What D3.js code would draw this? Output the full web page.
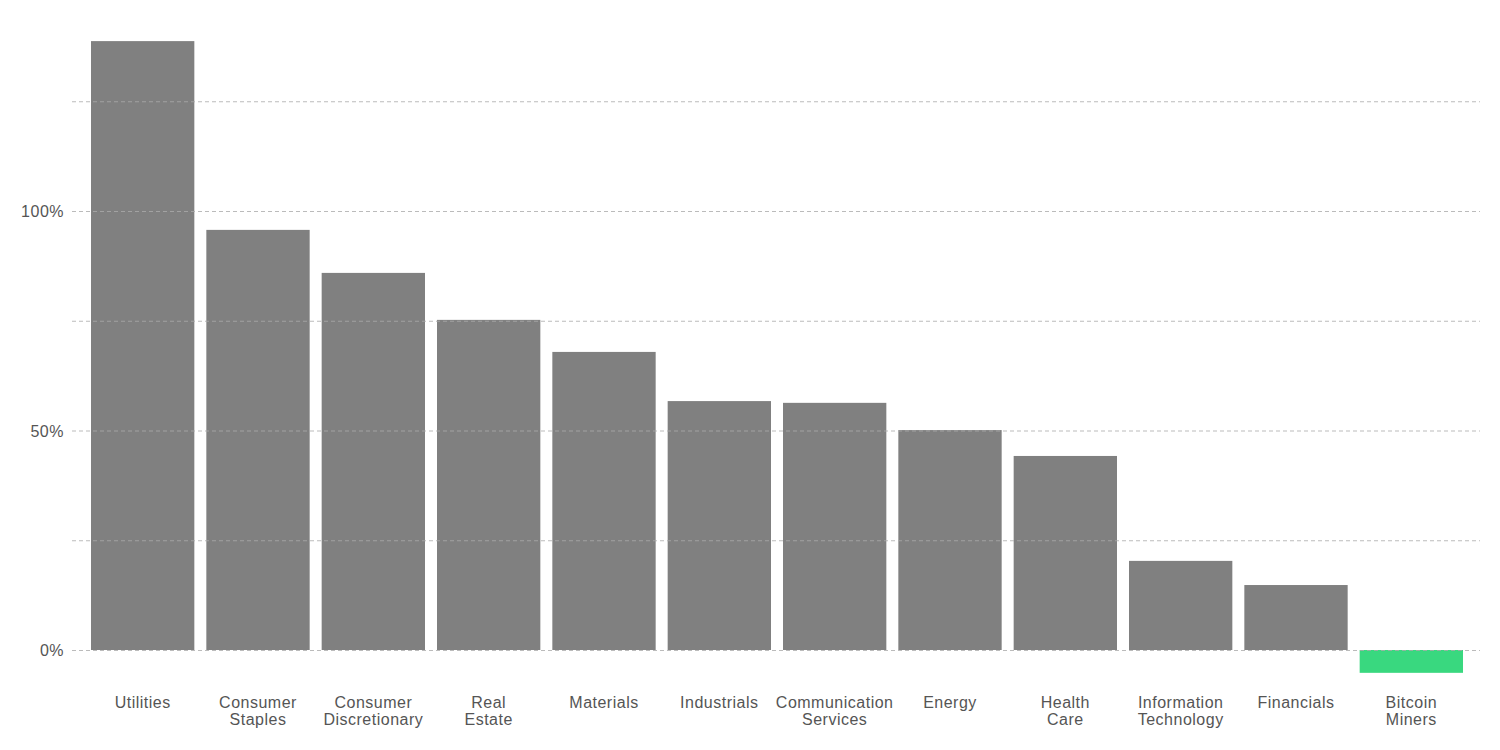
<!DOCTYPE html>
<html><head><meta charset="utf-8">
<script src="https://cdn.jsdelivr.net/npm/d3@7"></script>
<style>
html,body{margin:0;padding:0;background:#fff;}
svg text{font-family:"Liberation Sans",Arial,sans-serif;letter-spacing:0.5px;}
</style></head>
<body>
<svg id="chart" width="1500" height="750"></svg>
<script>
const categories = [["Utilities"],["Consumer","Staples"],["Consumer","Discretionary"],["Real","Estate"],["Materials"],["Industrials"],["Communication","Services"],["Energy"],["Health","Care"],["Information","Technology"],["Financials"],["Bitcoin","Miners"]];
const values = [138.7, 95.7, 85.9, 75.2, 67.9, 56.7, 56.3, 50.1, 44.2, 20.3, 14.8, -5.2];
const gridTicks = [0, 25, 50, 75, 100, 125];
const labelTicks = [0, 50, 100];

const svg = d3.select("#chart");
const keys = categories.map(c => c.join(" "));
const x = d3.scaleBand().domain(keys).range([85, 1469]).paddingInner(0.104).paddingOuter(0.052);
const y = d3.scaleLinear().domain([0, 100]).range([650, 211]);

svg.append("g").selectAll("rect").data(values).join("rect")
  .attr("x", (d, i) => x(keys[i]))
  .attr("width", x.bandwidth())
  .attr("y", d => y(Math.max(0, d)))
  .attr("height", d => Math.abs(y(d) - y(0)))
  .attr("fill", (d, i) => d < 0 ? "#39d87f" : "#808080");

svg.append("g").selectAll("line").data(gridTicks).join("line")
  .attr("x1", 72).attr("x2", 1480)
  .attr("y1", d => y(d) + 0.5).attr("y2", d => y(d) + 0.5)
  .attr("stroke", "#aaa").attr("stroke-opacity", 0.8)
  .attr("stroke-width", 1).attr("stroke-dasharray", "4,3");

svg.append("g").selectAll("text").data(labelTicks).join("text")
  .attr("x", 64).attr("y", d => y(d) + 6)
  .attr("text-anchor", "end").attr("font-size", 16).attr("fill", "#555")
  .text(d => d + "%");

const lab = svg.append("g").selectAll("text").data(categories).join("text")
  .attr("x", (d, i) => x(keys[i]) + x.bandwidth() / 2)
  .attr("y", 708)
  .attr("text-anchor", "middle").attr("font-size", 16).attr("fill", "#555");
lab.selectAll("tspan").data(d => d).join("tspan")
  .attr("x", function() { return d3.select(this.parentNode).attr("x"); })
  .attr("dy", (d, i) => i === 0 ? 0 : 17)
  .text(d => d);
</script>
</body></html>
